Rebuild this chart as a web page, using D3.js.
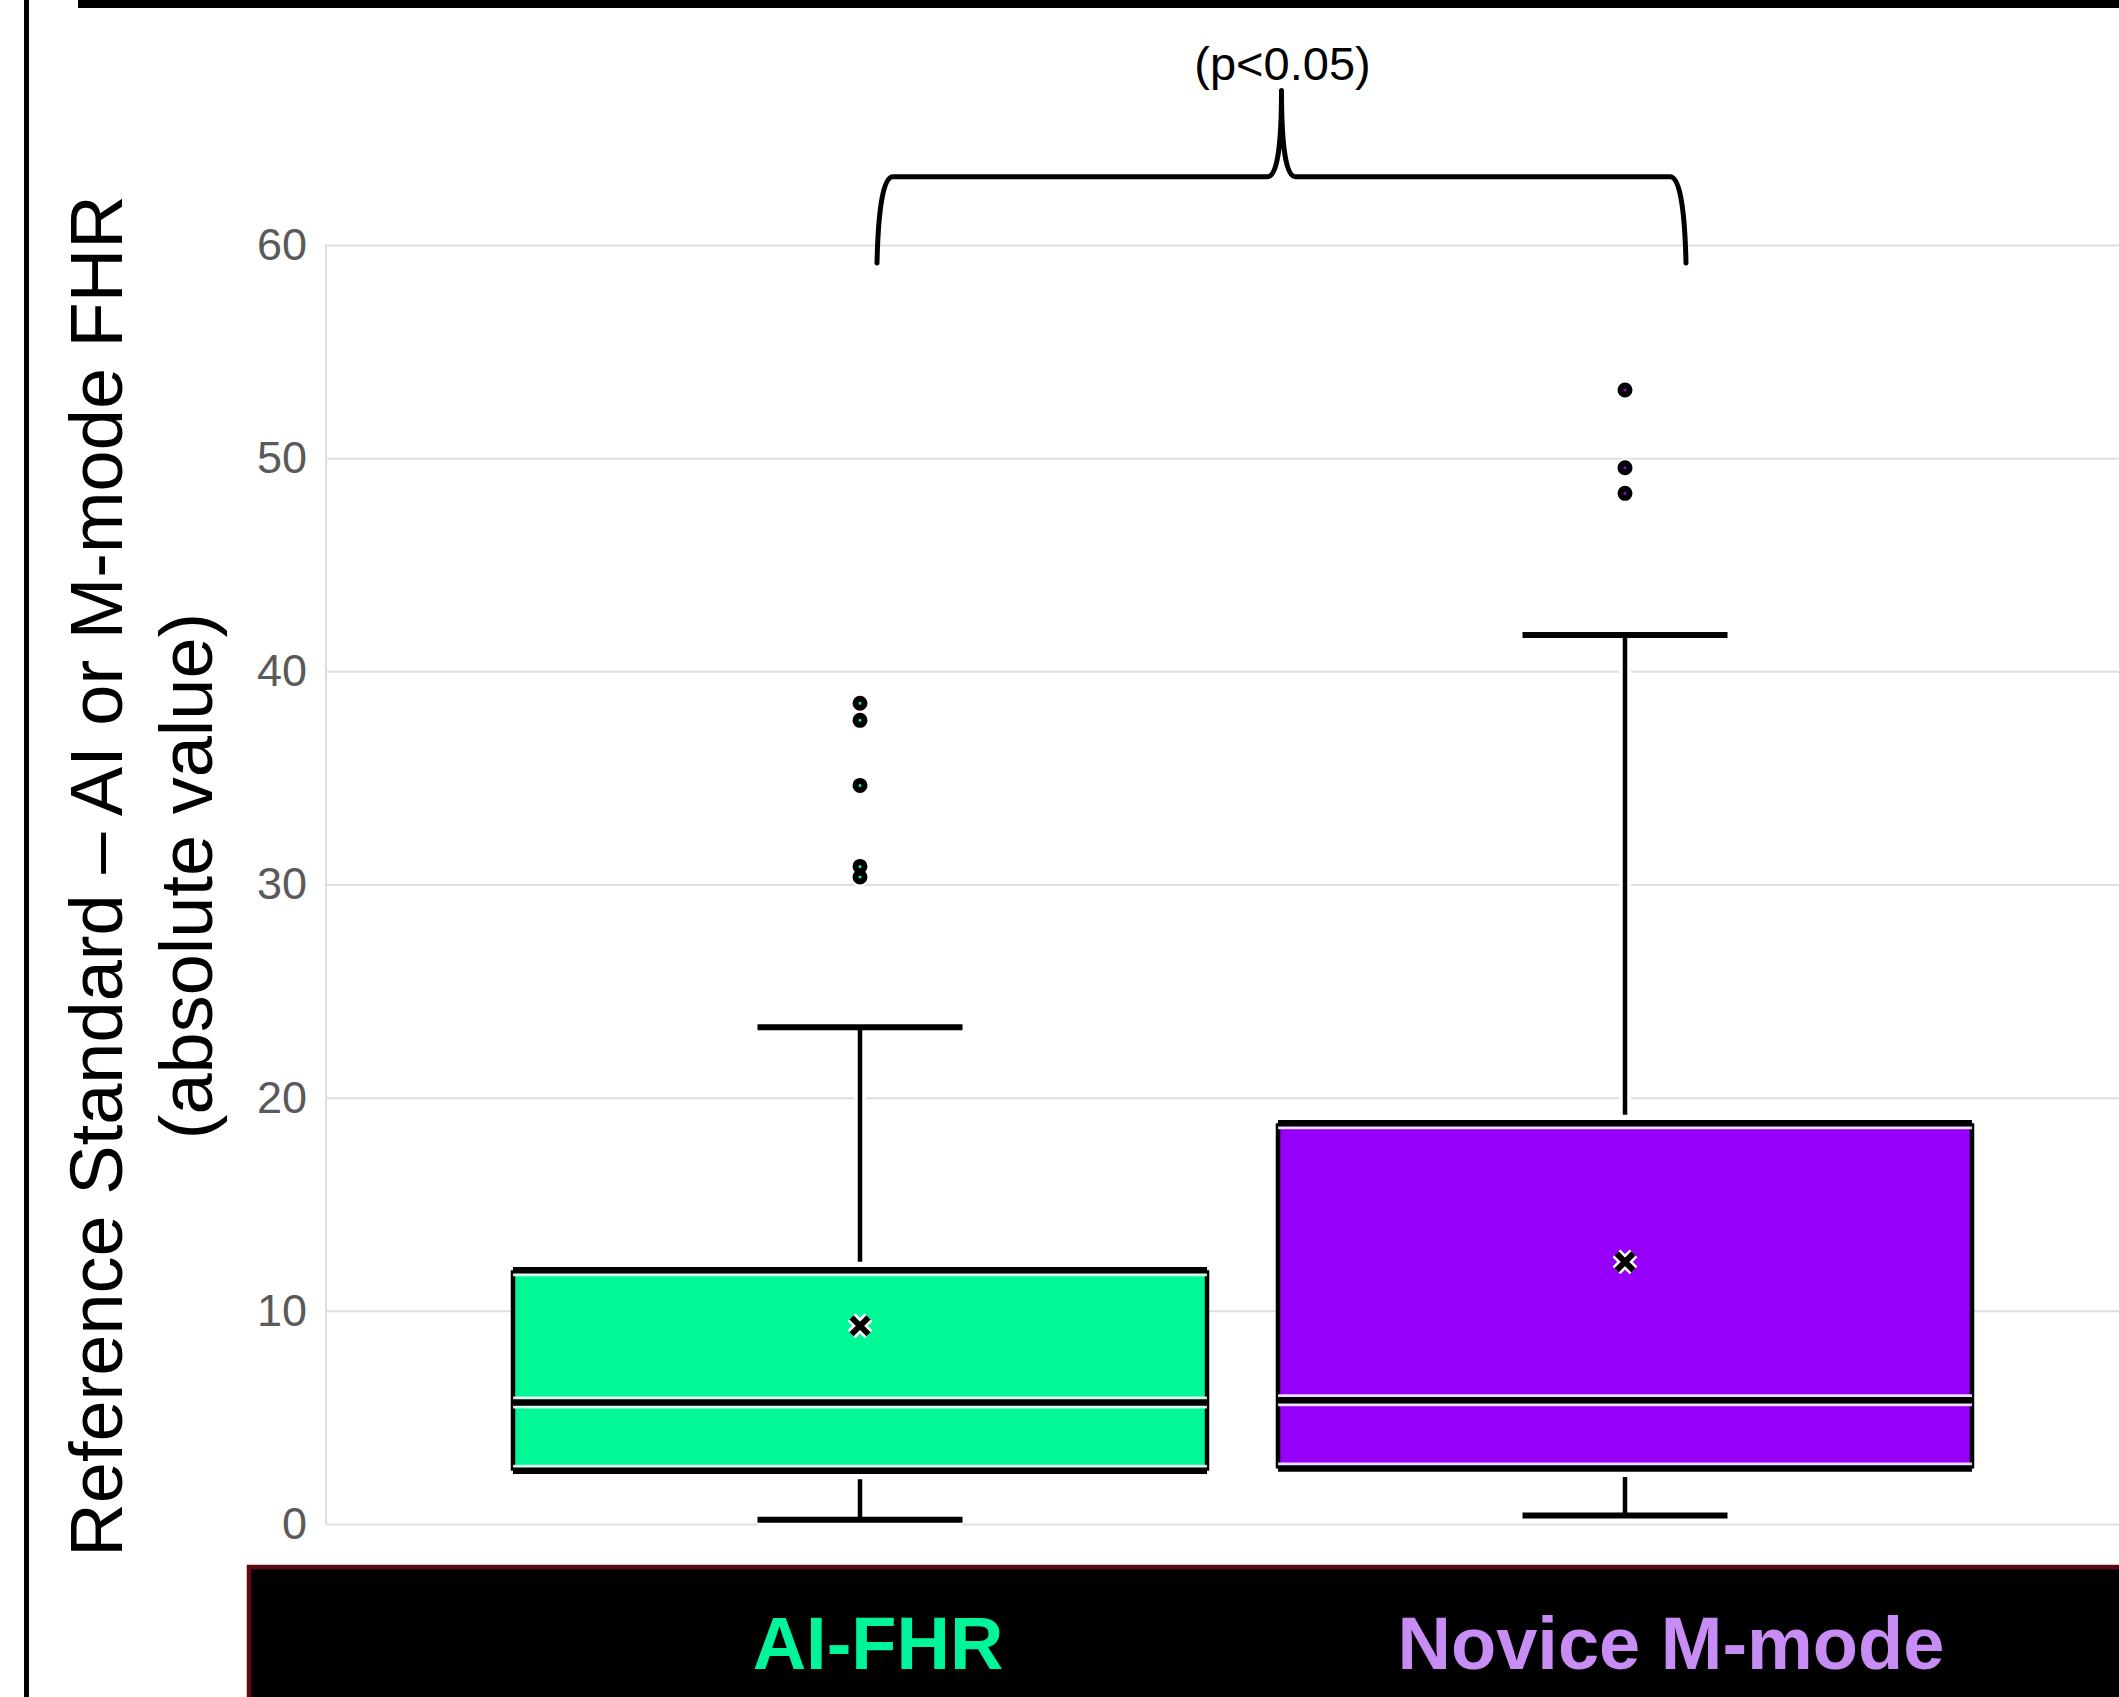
<!DOCTYPE html>
<html>
<head>
<meta charset="utf-8">
<script src="https://cdn.jsdelivr.net/npm/d3@7"></script>
<style>
  body { margin: 0; background: #fff; }
  svg { display: block; font-family: "Liberation Sans", Arial, sans-serif; }
</style>
</head>
<body>
<svg id="chart" width="2119" height="1697"></svg>
<script>
// data
const categories = ["AI-FHR", "Novice M-mode"];
const lowerWhisker = [0.2, 0.4];
const q1 = [2.5, 2.6];
const median = [5.7, 5.8];
const q3 = [11.9, 18.8];
const upperWhisker = [23.3, 41.7];
const means = [9.3, 12.3];
const outliers = [
  [30.35, 30.85, 34.65, 37.7, 38.5],
  [48.35, 49.55, 53.2]
];
const yTicks = [0, 10, 20, 30, 40, 50, 60];
const boxColors = ["#00f896", "#9600fa"];
const labelColors = ["#00f59a", "#c88cf5"];
const yTitle = ["Reference Standard \u2013 AI or M-mode FHR", "(absolute value)"];
const pLabel = "(p<0.05)";

const W = 2119, H = 1697;
const svg = d3.select("#chart");

const y = d3.scaleLinear().domain([0, 60]).range([1524, 245]);
const x = d3.scalePoint().domain(categories).range([860, 1625]);
const xLab = d3.scalePoint().domain(categories).range([878, 1671]);
const plotLeft = 326;
const boxW = 694, capW = 205;

// frame bits
svg.append("rect").attr("x", 24).attr("y", 0).attr("width", 5).attr("height", H).attr("fill", "#000");
svg.append("rect").attr("x", 78).attr("y", -2).attr("width", W).attr("height", 10).attr("fill", "#000");

// grid + tick labels
const yAxis = svg.append("g")
  .attr("transform", "translate(" + plotLeft + ",0)")
  .call(d3.axisLeft(y).tickValues(yTicks).tickSize(-(W - plotLeft)).tickPadding(19));
yAxis.select(".domain").remove();
yAxis.selectAll(".tick line").attr("stroke", "#dedede").attr("stroke-width", 2);
yAxis.selectAll(".tick text")
  .attr("fill", "#5a5a5a")
  .style("font-size", "45px")
  .style("font-family", "'Liberation Sans', Arial, sans-serif");
svg.append("line")
  .attr("x1", plotLeft).attr("x2", plotLeft)
  .attr("y1", y(60)).attr("y2", y(0))
  .attr("stroke", "#dedede").attr("stroke-width", 2);

// y title
yTitle.forEach(function (t, i) {
  svg.append("text")
    .attr("transform", "translate(" + (122 + i * 90) + ",876) rotate(-90)")
    .attr("text-anchor", "middle")
    .style("font-size", "74px")
    .attr("fill", "#000")
    .text(t);
});

const boxes = svg.selectAll(".box")
  .data(categories)
  .enter().append("g")
  .attr("class", "box")
  .attr("transform", function (d) { return "translate(" + x(d) + ",0)"; });

// whiskers (white halo first, then black)
[["#fff", 12], ["#000", 4.5]].forEach(function (s) {
  boxes.append("line")
    .attr("x1", 0).attr("x2", 0)
    .attr("y1", function (d, i) { return y(q3[i]); })
    .attr("y2", function (d, i) { return y(upperWhisker[i]); })
    .attr("stroke", s[0]).attr("stroke-width", s[1]);
  boxes.append("line")
    .attr("x1", 0).attr("x2", 0)
    .attr("y1", function (d, i) { return y(q1[i]); })
    .attr("y2", function (d, i) { return y(lowerWhisker[i]); })
    .attr("stroke", s[0]).attr("stroke-width", s[1]);
  [upperWhisker, lowerWhisker].forEach(function (arr) {
    boxes.append("line")
      .attr("x1", -capW / 2).attr("x2", capW / 2)
      .attr("y1", function (d, i) { return y(arr[i]); })
      .attr("y2", function (d, i) { return y(arr[i]); })
      .attr("stroke", s[0]).attr("stroke-width", s[1] + 1.5);
  });
});

// wide white halo outside the box (hides whisker ends)
[q1, q3].forEach(function (arr) {
  boxes.append("line")
    .attr("x1", -boxW / 2 - 2).attr("x2", boxW / 2 + 2)
    .attr("y1", function (d, i) { return y(arr[i]); })
    .attr("y2", function (d, i) { return y(arr[i]); })
    .attr("stroke", "#fff").attr("stroke-width", 17);
});

// box fill
boxes.append("rect")
  .attr("x", -boxW / 2).attr("width", boxW)
  .attr("y", function (d, i) { return y(q3[i]); })
  .attr("height", function (d, i) { return y(q1[i]) - y(q3[i]); })
  .attr("fill", function (d, i) { return boxColors[i]; });

// box sides
[-boxW / 2, boxW / 2].forEach(function (sx) {
  boxes.append("line")
    .attr("x1", sx).attr("x2", sx)
    .attr("y1", function (d, i) { return y(q3[i]); })
    .attr("y2", function (d, i) { return y(q1[i]); })
    .attr("stroke", "#000").attr("stroke-width", 4.5);
});

// q1 / median / q3 bars
[q1, median, q3].forEach(function (arr) {
  [["#fff", 12], ["#000", 6.5]].forEach(function (s) {
    boxes.append("line")
      .attr("x1", -boxW / 2).attr("x2", boxW / 2)
      .attr("y1", function (d, i) { return y(arr[i]); })
      .attr("y2", function (d, i) { return y(arr[i]); })
      .attr("stroke", s[0]).attr("stroke-width", s[1]).attr("stroke-opacity", s[0] === "#fff" ? 0.85 : 1);
  });
});

// mean marker
const cross = d3.symbol(d3.symbolX, 190);
[["#fff", 11], ["#000", 6]].forEach(function (s) {
  boxes.append("path")
    .attr("d", cross)
    .attr("transform", function (d, i) { return "translate(0," + y(means[i]) + ")"; })
    .attr("fill", "none")
    .attr("stroke", s[0]).attr("stroke-width", s[1]);
});

// outliers
boxes.each(function (d, i) {
  const g = d3.select(this);
  g.selectAll(".halo").data(outliers[i]).enter().append("circle")
    .attr("class", "halo").attr("cx", 0).attr("cy", function (v) { return y(v); })
    .attr("r", 9.5).attr("fill", "#fff");
  g.selectAll(".pt").data(outliers[i]).enter().append("circle")
    .attr("class", "pt").attr("cx", 0).attr("cy", function (v) { return y(v); })
    .attr("r", 4.5).attr("fill", boxColors[i])
    .attr("stroke", "#000").attr("stroke-width", 6);
});

// significance brace
const xl = xLab(categories[0]) - 1, xr = xLab(categories[1]) + 15;
const mid = (xl + xr) / 2;
const yLeg = y(59.15), yBar = y(63.2), yTip = y(67.25);
const p = d3.path();
p.moveTo(xl, yLeg);
p.quadraticCurveTo(xl + 2, yBar, xl + 16, yBar);
p.lineTo(mid - 14, yBar);
p.quadraticCurveTo(mid, yBar, mid, yTip);
p.quadraticCurveTo(mid, yBar, mid + 14, yBar);
p.lineTo(xr - 16, yBar);
p.quadraticCurveTo(xr - 2, yBar, xr, yLeg);
svg.append("path")
  .attr("d", p.toString())
  .attr("fill", "none").attr("stroke", "#000").attr("stroke-width", 5)
  .attr("stroke-linecap", "round").attr("stroke-linejoin", "round");
svg.append("text")
  .attr("x", mid + 1).attr("y", y(67.73))
  .attr("text-anchor", "middle")
  .style("font-size", "47px")
  .attr("fill", "#000")
  .text(pLabel);

// category label strip
svg.append("rect")
  .attr("x", 249).attr("y", 1567)
  .attr("width", W).attr("height", 200)
  .attr("fill", "#000").attr("stroke", "#5e0a14").attr("stroke-width", 4.5);
svg.selectAll(".catlab")
  .data(categories)
  .enter().append("text")
  .attr("class", "catlab")
  .attr("x", function (d) { return xLab(d); })
  .attr("y", 1669)
  .attr("text-anchor", "middle")
  .style("font-size", "74px")
  .style("font-weight", "bold")
  .attr("fill", function (d, i) { return labelColors[i]; })
  .text(function (d) { return d; });
</script>
</body>
</html>
